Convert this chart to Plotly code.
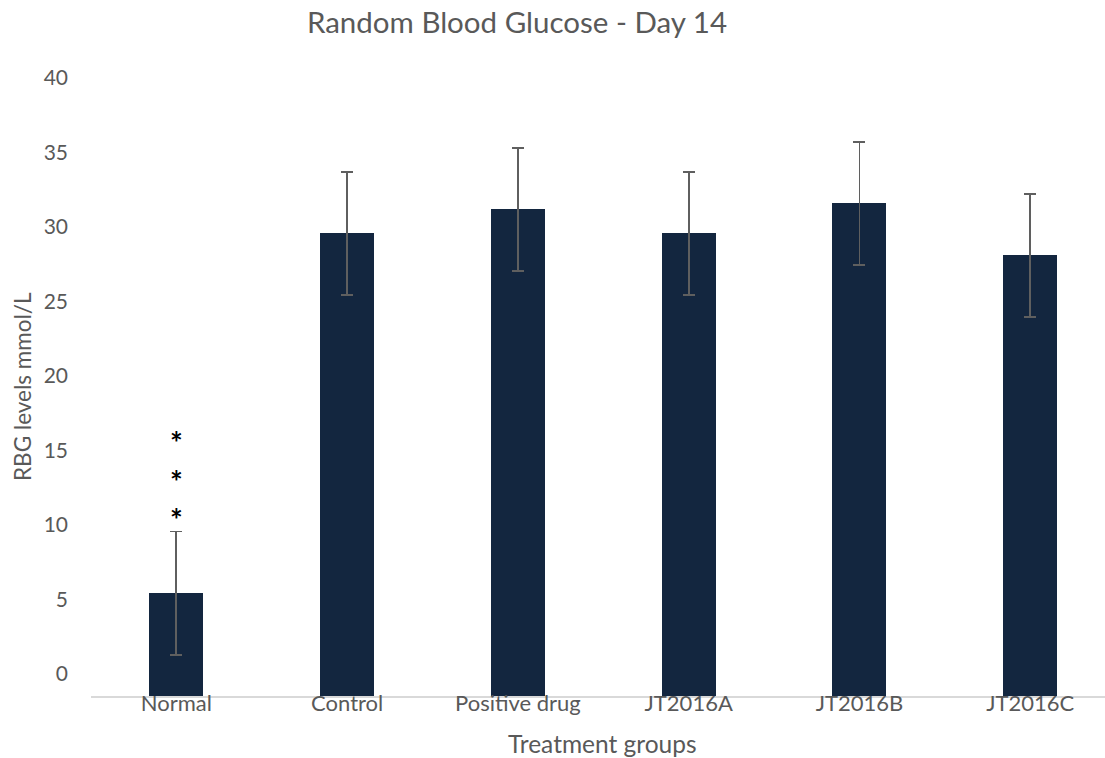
import plotly.graph_objects as go

# ---- data ----
categories = ["Normal", "Control", "Positive drug", "JT2016A", "JT2016B", "JT2016C"]
rbg_mean = [5.41, 29.57, 31.18, 29.57, 31.58, 28.09]
rbg_err = [4.14, 4.12, 4.12, 4.12, 4.12, 4.13]
y_tick_vals = [0, 5, 10, 15, 20, 25, 30, 35, 40]
significance_group = "Normal"
significance_marks = ["*", "*", "*"]

AXIS_MIN = -1.5  # horizontal axis sits slightly below the "0" label
AXIS_MAX = 40

W, H = 1105, 758
ML, MR, MT, MB = 91, 0, 78, 62
PW, PH = W - ML - MR, H - MT - MB
FONT = "Lato"
GREY = "#595959"
BAR = "#13263F"


def px_to_paper(px, py):
    return (px - ML) / PW, (H - MB - py) / PH


fig = go.Figure()
fig.add_trace(go.Bar(
    x=categories,
    y=[v - AXIS_MIN for v in rbg_mean],
    base=AXIS_MIN,
    customdata=rbg_mean,
    hovertemplate="%{x}: %{customdata}<extra></extra>",
    marker=dict(color=BAR, line=dict(width=0)),
    width=0.316,
    error_y=dict(type="data", array=rbg_err, visible=True,
                 color="#5f5f5f", thickness=1.8, width=6),
))

# significance asterisks above the Normal group
gi = categories.index(significance_group)
top = rbg_mean[gi] + rbg_err[gi]
for k, mark in enumerate(significance_marks):
    fig.add_annotation(
        x=categories[gi], y=top, xref="x", yref="y",
        text="<b>" + mark + "</b>", showarrow=False, yanchor="middle",
        yshift=12 + 38.5 * k,
        font=dict(family=FONT, size=30, color="#000000"),
    )

# axis titles
ax, ay = px_to_paper(602, 743)
fig.add_annotation(
    x=ax, y=ay, xref="paper", yref="paper",
    text="Treatment groups", showarrow=False, xanchor="center", yanchor="middle",
    font=dict(family=FONT, size=24.5, color=GREY),
)
ax, ay = px_to_paper(22, 387)
fig.add_annotation(
    x=ax, y=ay, xref="paper", yref="paper",
    text="RBG levels mmol/L", showarrow=False, textangle=-90,
    xanchor="center", yanchor="middle",
    font=dict(family=FONT, size=22.5, color=GREY),
)

fig.update_layout(
    width=W, height=H,
    margin=dict(l=ML, r=MR, t=MT, b=MB, pad=0, autoexpand=False),
    paper_bgcolor="white", plot_bgcolor="white",
    showlegend=False,
    title=dict(text="Random Blood Glucose - Day 14", x=517 / W, xanchor="center",
               y=1 - 23 / H, yanchor="middle",
               font=dict(family=FONT, size=29.5, color=GREY)),
    font=dict(family=FONT, color=GREY),
    bargap=0,
)
fig.update_xaxes(
    range=[-0.5, 5.5 - (1115.6 - W) / 170.8],
    showline=True, linecolor="#d9d9d9", linewidth=2,
    showgrid=False, zeroline=False, ticks="", automargin=False,
    tickfont=dict(family=FONT, size=22, color=GREY),
    ticklabelstandoff=-13,
)
fig.update_yaxes(
    range=[AXIS_MIN, AXIS_MAX],
    tickvals=y_tick_vals,
    showline=False, showgrid=False, zeroline=False, ticks="", automargin=False,
    tickfont=dict(family=FONT, size=21, color=GREY),
    ticklabelstandoff=22,
)

fig.write_html(
    "out.html",
    config={"displayModeBar": False},
    post_script="document.body.style.margin='0';document.body.style.overflow='hidden';",
)
